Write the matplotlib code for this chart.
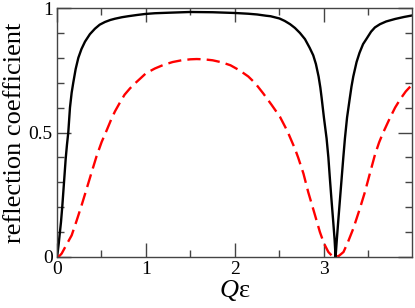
import matplotlib
matplotlib.use("Agg")
import matplotlib.pyplot as plt
from matplotlib.ticker import MultipleLocator

plt.rcParams['font.family'] = ['Liberation Serif', 'DejaVu Serif']
plt.rcParams['mathtext.fontset'] = 'custom'
plt.rcParams['mathtext.rm'] = 'Liberation Serif'
plt.rcParams['mathtext.it'] = 'Liberation Serif:italic'

# solid black curve
x_black = [0.0, 0.01, 0.02, 0.03, 0.045, 0.06, 0.071, 0.085, 0.098, 0.112,
           0.127, 0.146, 0.165, 0.183, 0.21, 0.24, 0.275, 0.315, 0.37, 0.427,
           0.48, 0.54, 0.6, 0.652, 0.73, 0.8, 0.9, 0.99, 1.1, 1.25,
           1.494, 1.75, 2.0, 2.15, 2.25, 2.35, 2.4, 2.5, 2.56, 2.62,
           2.674, 2.73, 2.787, 2.84, 2.88, 2.91, 2.94, 2.96, 2.974, 3.0,
           3.03, 3.05, 3.067, 3.085, 3.105, 3.12, 3.131, 3.145, 3.16, 3.18,
           3.199, 3.218, 3.236, 3.26, 3.29, 3.31, 3.33, 3.367, 3.4, 3.44,
           3.48, 3.53, 3.573, 3.63, 3.7, 3.8, 3.9, 3.99]
y_black = [0.0, 0.025, 0.055, 0.09, 0.14, 0.205, 0.26, 0.33, 0.395, 0.45,
           0.5, 0.6, 0.66, 0.7, 0.755, 0.8, 0.835, 0.865, 0.895, 0.917,
           0.933, 0.944, 0.952, 0.957, 0.963, 0.967, 0.972, 0.976, 0.979, 0.981,
           0.984, 0.983, 0.98, 0.977, 0.974, 0.969, 0.967, 0.958, 0.948, 0.935,
           0.92, 0.9, 0.875, 0.84, 0.81, 0.775, 0.725, 0.68, 0.64, 0.56,
           0.476, 0.4, 0.315, 0.23, 0.14, 0.07, 0.0, 0.07, 0.14, 0.23,
           0.315, 0.4, 0.476, 0.56, 0.636, 0.685, 0.725, 0.783, 0.82, 0.855,
           0.877, 0.905, 0.922, 0.935, 0.946, 0.956, 0.964, 0.97]

# dashed red curve
x_red = [0.0, 0.03, 0.053, 0.1, 0.165, 0.22, 0.277, 0.33, 0.39, 0.445,
         0.502, 0.56, 0.61, 0.652, 0.71, 0.76, 0.82, 0.876, 0.94, 1.0,
         1.1, 1.2, 1.3, 1.4, 1.5, 1.57, 1.65, 1.75, 1.85, 1.95,
         2.05, 2.15, 2.23, 2.318, 2.41, 2.506, 2.59, 2.674, 2.71, 2.77,
         2.824, 2.89, 2.955, 3.0, 3.05, 3.09, 3.131, 3.17, 3.22, 3.27,
         3.33, 3.4, 3.46, 3.52, 3.573, 3.62, 3.66, 3.74, 3.8, 3.86,
         3.92, 3.99]
y_red = [0.0, 0.005, 0.014, 0.045, 0.087, 0.145, 0.208, 0.27, 0.341, 0.405,
         0.462, 0.51, 0.553, 0.585, 0.622, 0.652, 0.677, 0.697, 0.718, 0.738,
         0.757, 0.772, 0.783, 0.79, 0.794, 0.795, 0.794, 0.79, 0.782, 0.77,
         0.75, 0.725, 0.697, 0.657, 0.612, 0.563, 0.505, 0.435, 0.4, 0.335,
         0.26, 0.18, 0.1, 0.055, 0.02, 0.005, 0.0, 0.005, 0.02, 0.06,
         0.114, 0.19, 0.26, 0.34, 0.41, 0.46, 0.495, 0.557, 0.6, 0.635,
         0.665, 0.692]

fig = plt.figure(figsize=(4.15, 3.08), dpi=100)
ax = fig.add_axes([0.1373, 0.1656, 0.8555, 0.8084])

ax.plot(x_black, y_black, color='black', lw=1.7, solid_joinstyle='round')
ax.plot(x_red, y_red, color='red', lw=1.7, dashes=(5.6, 2.6))

ax.set_xlim(0, 3.99)
ax.set_ylim(0, 1)
ax.xaxis.set_major_locator(MultipleLocator(1))
ax.xaxis.set_minor_locator(MultipleLocator(0.5))
ax.yaxis.set_minor_locator(MultipleLocator(0.1))
ax.set_yticks([0, 0.5, 1])
ax.set_yticklabels(['0', '0.5', '1'])

ax.tick_params(which='both', direction='in', top=True, right=True,
               labelsize=14, width=1.0, color='#444444', pad=3)
ax.tick_params(which='major', length=10)
ax.tick_params(which='minor', length=5)
for s in ax.spines.values():
    s.set_linewidth(1.0)
    s.set_color('#444444')

ax.set_xlabel(r'$Q$ε', fontsize=19, labelpad=0)
ax.set_ylabel('reflection coefficient', fontsize=19, labelpad=2)

fig.savefig('out.png', dpi=100)
